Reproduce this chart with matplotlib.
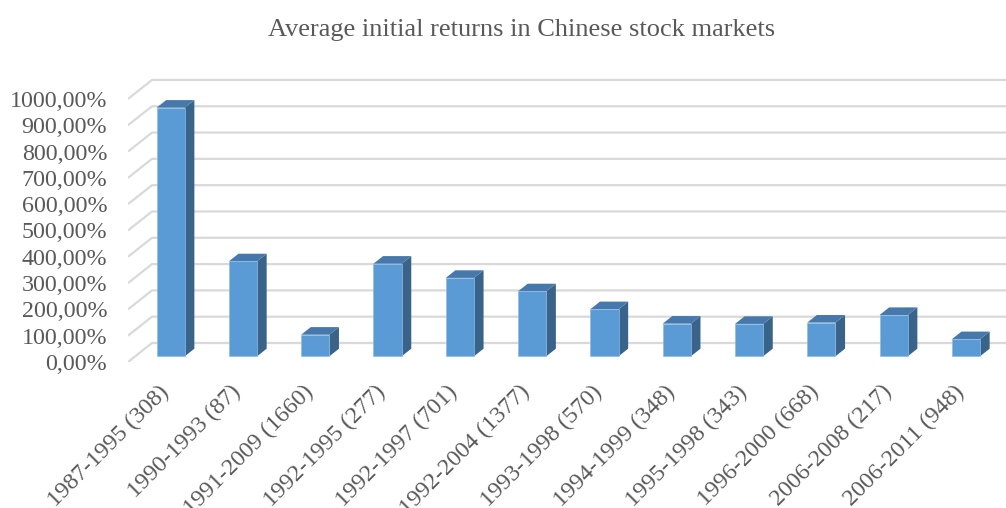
import matplotlib
matplotlib.use("Agg")
import matplotlib.pyplot as plt
from matplotlib.patches import Polygon
from matplotlib.ticker import FuncFormatter
import numpy as np

periods = ["1987-1995 (308)", "1990-1993 (87)", "1991-2009 (1660)", "1992-1995 (277)",
           "1992-1997 (701)", "1992-2004 (1377)", "1993-1998 (570)", "1994-1999 (348)",
           "1995-1998 (343)", "1996-2000 (668)", "2006-2008 (217)", "2006-2011 (948)"]
returns = [945, 361, 82, 352, 298, 247, 179, 124, 123, 128, 157, 65]  # in %
yticks = list(range(0, 1001, 100))

front_col = "#5b9bd5"
side_col = "#3a6389"
top_col = "#4678ab"
grid_col = "#d9d9d9"
text_col = "#595959"

# fake 3d: depth of the plot box and of each column, in data units
DX, DY = 0.332, 72.2
FX, FY = 0.10, 21.7      # where the column front sits inside the box
BDX, BDY = 0.133, 28.9   # column depth
W = 0.39

plt.rcParams["font.family"] = ["Liberation Serif", "DejaVu Serif"]

fig = plt.figure(figsize=(10.06, 5.08), dpi=100)
ax = fig.add_axes([128 / 1006, 146 / 508, 878 / 1006, 292 / 508])
xmin, xmax = -0.49, 11.654
ax.set_xlim(xmin, xmax)
ax.set_ylim(0, 1110)

# back wall gridlines plus the slanted side wall lines
for v in yticks:
    ax.plot([xmin, xmin + DX, xmax], [v, v + DY, v + DY], color=grid_col, lw=1.6,
            zorder=1, solid_capstyle="butt")

x = np.arange(len(returns))
left = x + FX - W / 2
ax.bar(left, returns, width=W, bottom=FY, align="edge", color=front_col,
       edgecolor="#8dbbe6", linewidth=0.5, zorder=3)
for x0, v in zip(left, returns):
    side = [(x0 + W, FY), (x0 + W + BDX, FY + BDY), (x0 + W + BDX, FY + BDY + v), (x0 + W, FY + v)]
    top = [(x0, FY + v), (x0 + BDX, FY + v + BDY), (x0 + W + BDX, FY + v + BDY), (x0 + W, FY + v)]
    ax.add_patch(Polygon(side, closed=True, facecolor=side_col, edgecolor="none", zorder=2))
    ax.add_patch(Polygon(top, closed=True, facecolor=top_col, edgecolor="none", zorder=2))

ax.set_yticks(yticks)
ax.yaxis.set_major_formatter(FuncFormatter(lambda v, p: f"{int(v)},00%"))
ax.set_xticks(x + FX + 0.03)
ax.set_xticklabels(periods, rotation=45, ha="right", va="top")
ax.tick_params(axis="y", length=0, pad=15, labelsize=17.3, labelcolor=text_col)
ax.tick_params(axis="x", length=0, pad=14, labelsize=17.3, labelcolor=text_col)
for s in ax.spines.values():
    s.set_visible(False)

fig.text(521.5 / 1006, 1 - 30 / 508, "Average initial returns in Chinese stock markets",
         ha="center", va="center", fontsize=19, color=text_col)

fig.savefig("out.png", dpi=100, facecolor="white")
